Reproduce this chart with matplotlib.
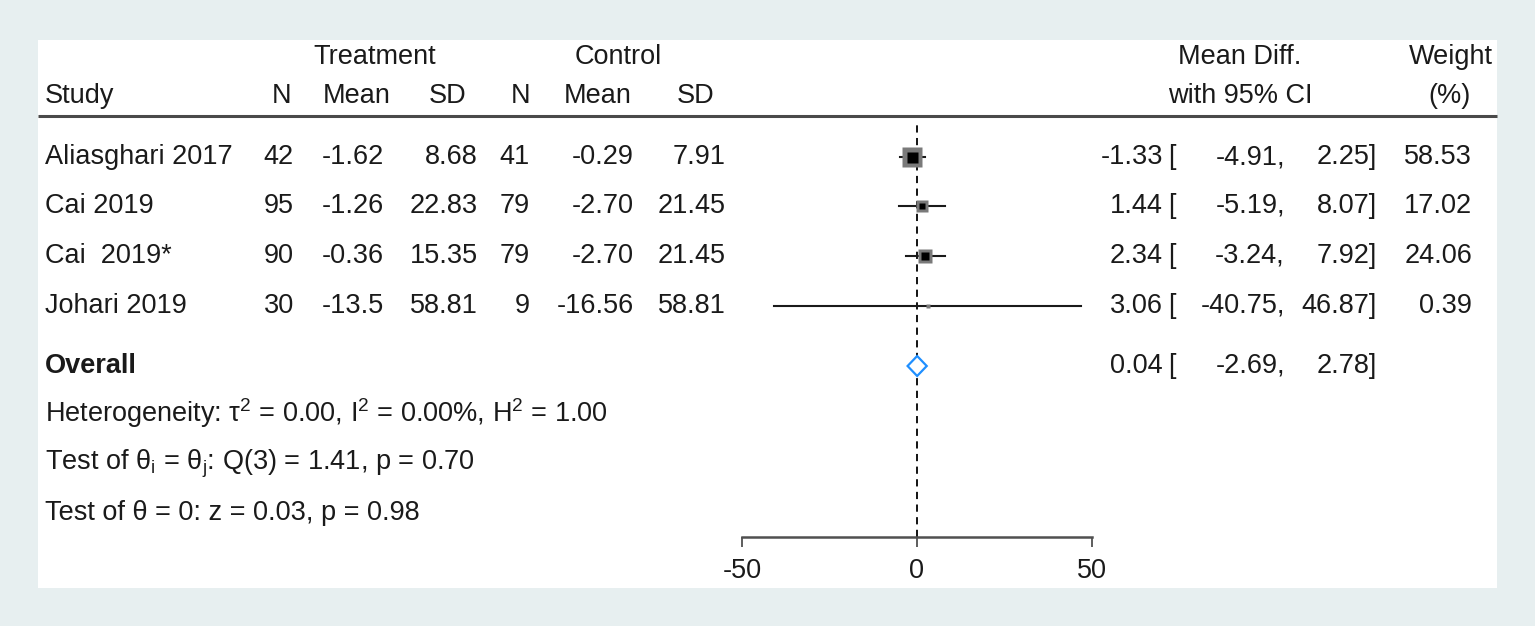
import matplotlib
matplotlib.use('Agg')
import matplotlib.pyplot as plt
from matplotlib.patches import Rectangle, Polygon
import numpy as np

plt.rcParams['font.family'] = ['Liberation Sans', 'DejaVu Sans']
plt.rcParams['mathtext.fontset'] = 'custom'
plt.rcParams['mathtext.rm'] = 'Liberation Sans'
plt.rcParams['mathtext.default'] = 'regular'

# data
studies = ['Aliasghari 2017', 'Cai 2019', 'Cai  2019*', 'Johari 2019']
t_n = ['42', '95', '90', '30']
t_mean = ['-1.62', '-1.26', '-0.36', '-13.5']
t_sd = ['8.68', '22.83', '15.35', '58.81']
c_n = ['41', '79', '79', '9']
c_mean = ['-0.29', '-2.70', '-2.70', '-16.56']
c_sd = ['7.91', '21.45', '21.45', '58.81']
md = np.array([-1.33, 1.44, 2.34, 3.06])
lo = np.array([-4.91, -5.19, -3.24, -40.75])
hi = np.array([2.25, 8.07, 7.92, 46.87])
weight = np.array([58.53, 17.02, 24.06, 0.39])
overall = (0.04, -2.69, 2.78)
stats_lines = [
    r'Heterogeneity: τ$^{2}$ = 0.00, I$^{2}$ = 0.00%, H$^{2}$ = 1.00',
    r'Test of θ$_{i}$ = θ$_{j}$: Q(3) = 1.41, p = 0.70',
    'Test of θ = 0: z = 0.03, p = 0.98',
]
xticks = [-50, 0, 50]

W, H = 1535, 626
fs = 19.5
tc = '#1a1a1a'

fig = plt.figure(figsize=(W / 100, H / 100), dpi=100, facecolor='#e7eff0')

# full-figure axes in pixel units for the table
bg = fig.add_axes([0, 0, 1, 1])
bg.set_xlim(0, W)
bg.set_ylim(H, 0)
bg.axis('off')
bg.add_patch(Rectangle((38, 40), 1459, 548, facecolor='white', edgecolor='none'))
bg.plot([38, 1497], [116, 116], color='#4a4a4a', lw=2.2, solid_capstyle='butt')

def txt(x, y, s, ha='right', **kw):
    bg.text(x, y, s, ha=ha, va='center', fontsize=fs, color=tc, **kw)

# headers
txt(375, 57, 'Treatment', ha='center')
txt(618, 57, 'Control', ha='center')
txt(1240, 57, 'Mean Diff.', ha='center')
txt(1451, 57, 'Weight', ha='center')
txt(45, 96, 'Study', ha='left')
for x, s in zip([282, 357, 448, 521, 598, 696], ['N', 'Mean', 'SD', 'N', 'Mean', 'SD']):
    txt(x, 96, s, ha='center')
txt(1240, 96, 'with 95% CI', ha='center')
txt(1450, 96, '(%)', ha='center')

row_y = [157, 206, 256, 306]
ov_y = 366
col_r = [294, 384, 478, 530, 634, 726]
for i, y in enumerate(row_y):
    txt(45, y, studies[i], ha='left')
    for x, col in zip(col_r, [t_n, t_mean, t_sd, c_n, c_mean, c_sd]):
        txt(x, y, col[i])
    txt(1163, y, f'{md[i]:.2f}')
    txt(1168, y, '[', ha='left')
    txt(1285, y, f'{lo[i]:.2f},')
    txt(1377, y, f'{hi[i]:.2f}]')
    txt(1472, y, f'{weight[i]:.2f}')

txt(45, ov_y, 'Overall', ha='left', fontweight='bold')
txt(1163, ov_y, f'{overall[0]:.2f}')
txt(1168, ov_y, '[', ha='left')
txt(1285, ov_y, f'{overall[1]:.2f},')
txt(1377, ov_y, f'{overall[2]:.2f}]')

for y, s in zip([413, 464, 513], stats_lines):
    txt(45, y, s, ha='left')

# forest axes: x in effect units, y in pixel rows
top, bot = 122, 537
fx = fig.add_axes([742 / W, (H - bot) / H, 350 / W, (bot - top) / H])
fx.patch.set_alpha(0)
fx.set_xlim(-50, 50)
fx.set_ylim(bot, top)
for s in ['top', 'left', 'right']:
    fx.spines[s].set_visible(False)
fx.spines['bottom'].set_color('#505050')
fx.spines['bottom'].set_linewidth(1.8)
fx.set_yticks([])
fx.set_xticks(xticks)
fx.set_xticklabels([str(t) for t in xticks])
fx.tick_params(axis='x', length=7, width=1.3, color='#505050', pad=8,
               labelsize=fs, labelcolor=tc)

fx.axvline(0, color='black', lw=1.3, dashes=(4, 3), zorder=1)

sides = 3 + 17 * np.sqrt(weight / weight.max())
for i, y in enumerate(row_y):
    fx.plot([lo[i], hi[i]], [y, y], color='#1a1a1a', lw=1.5, zorder=2, clip_on=False)
    fx.plot(md[i], y, marker='s', ms=sides[i] * 0.72, color='#7a7a7a', mec='none', zorder=3)
    if weight[i] > 1:
        fx.plot(md[i], y, marker='s', ms=sides[i] * 0.72 * 0.55, color='black', mec='none', zorder=4)

est, ol, oh = overall
fx.add_patch(Polygon([[ol, ov_y], [est, ov_y - 10], [oh, ov_y], [est, ov_y + 10]],
                     closed=True, facecolor='white', edgecolor='#1f8fff', lw=1.6, zorder=3))

fig.savefig('out.png', dpi=100, facecolor=fig.get_facecolor())
